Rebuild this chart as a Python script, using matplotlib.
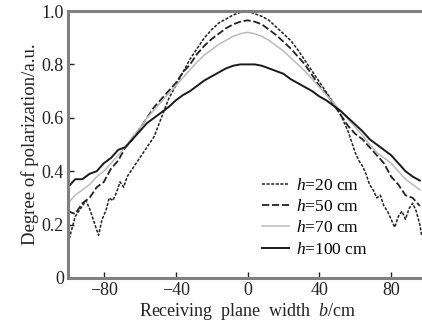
import numpy as np
import matplotlib
matplotlib.use("Agg")
import matplotlib.pyplot as plt

plt.rcParams['font.family'] = ['Liberation Serif', 'DejaVu Serif']
plt.rcParams['mathtext.fontset'] = 'custom'
plt.rcParams['mathtext.it'] = 'Liberation Serif:italic'
plt.rcParams['mathtext.rm'] = 'Liberation Serif'

# Receiving plane width b (cm)
b = [-100, -96, -92, -88, -84, -80, -76, -72, -68, -64, -60, -56, -52, -48, -44,
     -40, -36, -32, -28, -24, -20, -16, -12, -8, -4, 0, 4, 8, 12, 16, 20, 24,
     28, 32, 36, 40, 44, 48, 52, 56, 60, 64, 68, 72, 76, 80, 84, 88, 92, 96]

# h = 100 cm
p100 = [0.34, 0.37, 0.37, 0.39, 0.40, 0.43, 0.45, 0.48, 0.49, 0.52, 0.55, 0.58, 0.60, 0.62, 0.64,
        0.665, 0.685, 0.70, 0.72, 0.74, 0.755, 0.77, 0.785, 0.795, 0.80, 0.80, 0.80, 0.795, 0.785, 0.775,
        0.765, 0.745, 0.73, 0.715, 0.70, 0.68, 0.665, 0.645, 0.625, 0.60, 0.575, 0.55, 0.52, 0.50, 0.48,
        0.46, 0.43, 0.40, 0.38, 0.365]

# h = 70 cm
p70 = [0.28, 0.31, 0.33, 0.35, 0.38, 0.40, 0.43, 0.46, 0.49, 0.53, 0.56, 0.60, 0.63, 0.66, 0.69,
       0.72, 0.75, 0.78, 0.81, 0.835, 0.855, 0.875, 0.89, 0.905, 0.915, 0.92, 0.915, 0.905, 0.89, 0.87,
       0.85, 0.825, 0.80, 0.775, 0.745, 0.715, 0.685, 0.655, 0.625, 0.595, 0.565, 0.535, 0.50, 0.47, 0.45,
       0.43, 0.40, 0.37, 0.35, 0.33]

# h = 50 cm
p50 = [0.25, 0.24, 0.28, 0.30, 0.34, 0.36, 0.41, 0.44, 0.49, 0.52, 0.56, 0.60, 0.64, 0.67, 0.70,
       0.73, 0.77, 0.80, 0.84, 0.87, 0.895, 0.915, 0.935, 0.95, 0.96, 0.965, 0.96, 0.95, 0.93, 0.91,
       0.885, 0.86, 0.83, 0.80, 0.76, 0.72, 0.69, 0.65, 0.61, 0.57, 0.54, 0.52, 0.49, 0.46, 0.43,
       0.38, 0.35, 0.31, 0.30, 0.27]

# h = 20 cm (finer sampling, noisy edges)
b20 = [-100, -98, -96, -94, -92, -90, -88, -86, -84, -83, -81, -79, -77, -75, -73, -71, -69, -67,
       -65, -62, -58, -55, -52, -48, -44, -40, -36, -32, -28, -24, -20, -16, -12, -8, -4, 0,
       4, 8, 12, 16, 20, 24, 28, 32, 36, 40, 44, 48, 52, 56, 58, 60, 62, 64, 66, 68, 70, 72,
       74, 76, 78, 80, 82, 84, 86, 88, 90, 92, 94, 96, 97]
p20 = [0.13, 0.18, 0.23, 0.25, 0.27, 0.29, 0.26, 0.22, 0.18, 0.16, 0.22, 0.25, 0.30, 0.29, 0.32, 0.36, 0.34, 0.38,
       0.40, 0.43, 0.47, 0.50, 0.53, 0.60, 0.67, 0.72, 0.77, 0.82, 0.86, 0.90, 0.93, 0.955, 0.97, 0.985, 0.995, 1.0,
       0.99, 0.98, 0.965, 0.94, 0.915, 0.89, 0.855, 0.815, 0.775, 0.735, 0.695, 0.655, 0.61, 0.55, 0.51, 0.47, 0.44, 0.42, 0.39, 0.35, 0.33, 0.30,
       0.31, 0.27, 0.25, 0.22, 0.19, 0.23, 0.25, 0.22, 0.26, 0.28, 0.25, 0.20, 0.16]

labels = ['$h$=20 cm', '$h$=50 cm', '$h$=70 cm', '$h$=100 cm']
xticks = [-80, -40, 0, 40, 80]
yticks = [0, 0.2, 0.4, 0.6, 0.8, 1.0]
ytick_labels = ['0', '0.2', '0.4', '0.6', '0.8', '1.0']

fig = plt.figure(figsize=(4.22, 3.25), dpi=100)
ax = fig.add_axes([68/422, 47/325, 359/422, 267/325])

ax.plot(b20, p20, color='#222222', linewidth=1.1, linestyle=(0, (2, 1)), label=labels[0])
ax.plot(b, p50, color='#222222', linewidth=1.3, linestyle=(0, (4, 1.5)), label=labels[1])
ax.plot(b, p70, color='#bbbbbb', linewidth=1.1, label=labels[2])
ax.plot(b, p100, color='#1a1a1a', linewidth=1.4, label=labels[3])

ax.set_xlim(-100, 100)
ax.set_ylim(0, 1.0)
ax.set_xticks(xticks)
ax.set_xticklabels(['\u221280', '\u221240', '0', '40', '80'])
ax.set_yticks(yticks)
ax.set_yticklabels(ytick_labels)
ax.tick_params(direction='in', length=4, width=1, labelsize=13, colors='#222222', pad=3)
for s in ['left', 'bottom', 'top', 'right']:
    ax.spines[s].set_color('#808080')
    ax.spines[s].set_linewidth(2.2)

ax.set_xlabel('Receiving  plane  width  $b$/cm', fontsize=13, labelpad=1, color='#222222')
ax.set_ylabel('Degree of polarization/a.u.', fontsize=13.5, labelpad=2, color='#222222')

leg = ax.legend(loc='lower right', bbox_to_anchor=(0.87, 0.03), frameon=False, fontsize=12.5,
                handlelength=1.6, handletextpad=0.4, labelspacing=0.3, borderpad=0.2)

fig.savefig('out.png', dpi=100)
